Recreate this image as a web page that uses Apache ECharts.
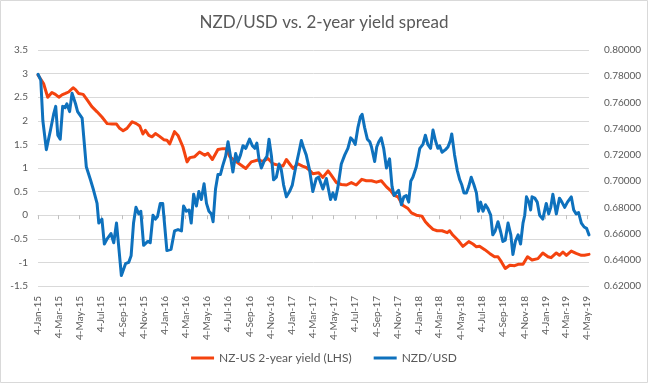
<!DOCTYPE html>
<html><head><meta charset="utf-8">
<script src="https://cdn.jsdelivr.net/npm/echarts@6/dist/echarts.min.js"></script>
<style>html,body{margin:0;padding:0;background:#fff}#c{width:648px;height:383px}</style>
</head><body><div id="c"></div>
<script>
const chartTitle = 'NZD/USD vs. 2-year yield spread';
const seriesNames = ['NZ-US 2-year yield (LHS)', 'NZD/USD'];
const tickLabels = ['4-Jan-15','4-Mar-15','4-May-15','4-Jul-15','4-Sep-15','4-Nov-15',
  '4-Jan-16','4-Mar-16','4-May-16','4-Jul-16','4-Sep-16','4-Nov-16',
  '4-Jan-17','4-Mar-17','4-May-17','4-Jul-17','4-Sep-17','4-Nov-17',
  '4-Jan-18','4-Mar-18','4-May-18','4-Jul-18','4-Sep-18','4-Nov-18',
  '4-Jan-19','4-Mar-19','4-May-19'];
const dateStart = '2015-01-04';
const dateEnd = '2019-05-09';
const leftAxis = {min: -1.5, max: 3.5, step: 0.5};
const rightAxis = {min: 0.62, max: 0.80, step: 0.02};

const yieldDates = ['2015-01-04','2015-01-20','2015-02-01','2015-02-13','2015-02-23','2015-03-05','2015-03-14','2015-03-24','2015-04-02','2015-04-15','2015-04-22','2015-05-01','2015-05-14','2015-05-25','2015-06-08','2015-06-23','2015-07-07','2015-07-22','2015-08-05','2015-08-18','2015-08-27','2015-09-06','2015-09-17','2015-10-02','2015-10-14','2015-10-24','2015-11-02','2015-11-09','2015-11-19','2015-11-28','2015-12-08','2015-12-20',
'2016-01-01','2016-01-10','2016-01-18','2016-02-01','2016-02-11','2016-02-25','2016-03-08','2016-03-16','2016-03-30','2016-04-13','2016-04-28','2016-05-07','2016-05-20','2016-06-05','2016-06-19','2016-06-29','2016-07-09','2016-07-28','2016-08-11','2016-08-24','2016-09-09','2016-09-28','2016-10-13','2016-10-27','2016-11-10','2016-11-25','2016-12-09','2016-12-19','2016-12-28',
'2017-01-07','2017-01-21','2017-02-03','2017-02-14','2017-02-24','2017-03-05','2017-03-10','2017-03-22','2017-04-03','2017-04-18','2017-04-27','2017-05-12','2017-05-26','2017-06-10','2017-06-24','2017-07-08','2017-07-24','2017-08-06','2017-08-21','2017-09-04','2017-09-18','2017-10-03','2017-10-15','2017-10-25','2017-11-05','2017-11-19','2017-12-04','2017-12-14','2017-12-28',
'2018-01-13','2018-01-23','2018-02-01','2018-02-14','2018-02-26','2018-03-12','2018-03-27','2018-04-03','2018-04-12','2018-04-27','2018-05-11','2018-05-28','2018-06-09','2018-06-19','2018-06-28','2018-07-13','2018-07-27','2018-08-10','2018-08-20','2018-08-30','2018-09-10','2018-09-23','2018-10-07','2018-10-17','2018-10-31','2018-11-13','2018-11-26','2018-12-13','2018-12-27',
'2019-01-11','2019-01-20','2019-02-04','2019-02-13','2019-02-23','2019-03-05','2019-03-19','2019-04-02','2019-04-17','2019-04-26','2019-05-09'];
const yieldValues = [2.97,2.79,2.5,2.6,2.56,2.5,2.55,2.58,2.61,2.7,2.66,2.58,2.56,2.45,2.3,2.19,2.08,1.94,1.93,1.93,1.84,1.79,1.84,1.98,1.94,1.89,1.72,1.8,1.69,1.66,1.73,1.67,
1.6,1.59,1.51,1.77,1.69,1.45,1.13,1.22,1.24,1.34,1.27,1.31,1.18,1.39,1.41,1.41,1.24,1.13,1.06,0.99,1.13,1.17,1.14,1.2,1.09,1.06,1.04,1.18,1.09,
0.99,1.09,1.04,1.01,0.95,0.88,0.85,0.9,0.8,0.94,0.85,0.69,0.65,0.64,0.69,0.64,0.76,0.73,0.73,0.7,0.73,0.6,0.52,0.42,0.39,0.21,0.14,0.05,0.0,
-0.02,-0.14,-0.21,-0.3,-0.33,-0.33,-0.37,-0.33,-0.42,-0.53,-0.66,-0.56,-0.61,-0.67,-0.66,-0.73,-0.81,-0.88,-0.88,-0.99,-1.13,-1.06,-1.07,-1.04,-1.04,-0.88,-0.95,-0.92,-0.8,
-0.88,-0.9,-0.8,-0.85,-0.78,-0.85,-0.76,-0.81,-0.85,-0.85,-0.83];

const fxDates = ['2015-01-04','2015-01-12','2015-01-18','2015-01-28','2015-02-09','2015-02-18','2015-02-24','2015-03-02','2015-03-09','2015-03-16','2015-03-23','2015-03-28','2015-04-05','2015-04-12','2015-04-22','2015-04-28','2015-05-11','2015-05-23','2015-06-04','2015-06-13','2015-06-23','2015-06-28','2015-07-07','2015-07-14','2015-07-22','2015-08-02','2015-08-10','2015-08-18','2015-08-24','2015-09-01','2015-09-13','2015-09-22','2015-09-29','2015-10-06','2015-10-13','2015-10-21','2015-10-27','2015-11-04','2015-11-16','2015-11-23','2015-12-01','2015-12-08','2015-12-14','2015-12-22','2015-12-29',
'2016-01-04','2016-01-10','2016-01-22','2016-02-01','2016-02-11','2016-02-21','2016-02-27','2016-03-06','2016-03-14','2016-03-20','2016-03-27','2016-04-04','2016-04-11','2016-04-18','2016-04-26','2016-05-03','2016-05-10','2016-05-17','2016-05-22','2016-05-29','2016-06-05','2016-06-12','2016-06-19','2016-06-27','2016-07-04','2016-07-11','2016-07-18','2016-07-26','2016-08-02','2016-08-09','2016-08-16','2016-08-24','2016-09-04','2016-09-12','2016-09-19','2016-09-25','2016-10-01','2016-10-08','2016-10-17','2016-10-24','2016-10-30','2016-11-06','2016-11-12','2016-11-20','2016-11-28','2016-12-04','2016-12-11','2016-12-19','2016-12-28',
'2017-01-05','2017-01-15','2017-01-24','2017-01-31','2017-02-07','2017-02-14','2017-02-19','2017-02-24','2017-03-05','2017-03-15','2017-03-22','2017-04-03','2017-04-13','2017-04-25','2017-05-02','2017-05-09','2017-05-16','2017-05-26','2017-06-05','2017-06-14','2017-06-22','2017-06-29','2017-07-05','2017-07-13','2017-07-20','2017-07-25','2017-08-01','2017-08-09','2017-08-16','2017-08-21','2017-08-30','2017-09-05','2017-09-11','2017-09-18','2017-09-25','2017-10-03','2017-10-12','2017-10-19','2017-10-25','2017-10-31','2017-11-07','2017-11-15','2017-11-22','2017-11-29','2017-12-06','2017-12-12','2017-12-18','2017-12-28',
'2018-01-07','2018-01-16','2018-01-23','2018-01-30','2018-02-07','2018-02-14','2018-02-21','2018-02-28','2018-03-05','2018-03-12','2018-03-22','2018-03-29','2018-04-05','2018-04-09','2018-04-17','2018-04-25','2018-05-02','2018-05-08','2018-05-14','2018-05-21','2018-05-28','2018-06-04','2018-06-12','2018-06-19','2018-06-25','2018-07-01','2018-07-08','2018-07-15','2018-07-22','2018-07-30','2018-08-05','2018-08-12','2018-08-20','2018-08-28','2018-09-03','2018-09-10','2018-09-18','2018-09-26','2018-10-02','2018-10-09','2018-10-17','2018-10-24','2018-10-31','2018-11-05','2018-11-10','2018-11-17','2018-11-22','2018-11-26','2018-12-04','2018-12-11','2018-12-18','2018-12-27',
'2019-01-06','2019-01-13','2019-01-19','2019-01-25','2019-02-04','2019-02-13','2019-02-20','2019-02-28','2019-03-08','2019-03-19','2019-03-26','2019-04-02','2019-04-09','2019-04-17','2019-04-25','2019-05-02','2019-05-09'];
const fxValues = [0.7815,0.777,0.746,0.724,0.739,0.751,0.757,0.735,0.732,0.757,0.756,0.759,0.753,0.767,0.759,0.753,0.748,0.711,0.701,0.693,0.683,0.668,0.671,0.652,0.656,0.660,0.653,0.668,0.651,0.628,0.637,0.638,0.643,0.668,0.680,0.675,0.677,0.651,0.654,0.653,0.674,0.671,0.673,0.683,0.683,
0.665,0.647,0.648,0.662,0.663,0.662,0.681,0.677,0.678,0.668,0.690,0.681,0.692,0.686,0.698,0.683,0.677,0.675,0.669,0.694,0.705,0.705,0.712,0.719,0.730,0.719,0.707,0.721,0.715,0.720,0.727,0.725,0.732,0.727,0.725,0.729,0.717,0.710,0.716,0.719,0.732,0.719,0.701,0.703,0.713,0.709,0.697,0.688,0.692,
0.697,0.711,0.722,0.731,0.725,0.720,0.719,0.708,0.692,0.702,0.703,0.694,0.702,0.686,0.691,0.686,0.695,0.713,0.720,0.725,0.733,0.731,0.728,0.741,0.749,0.751,0.741,0.732,0.730,0.726,0.715,0.726,0.730,0.733,0.725,0.710,0.717,0.696,0.689,0.691,0.693,0.682,0.688,0.689,0.684,0.700,0.703,0.711,
0.725,0.728,0.735,0.728,0.725,0.739,0.731,0.725,0.727,0.722,0.724,0.726,0.731,0.736,0.720,0.708,0.701,0.697,0.691,0.691,0.696,0.703,0.697,0.691,0.677,0.684,0.677,0.682,0.679,0.674,0.659,0.662,0.669,0.661,0.654,0.655,0.668,0.659,0.644,0.654,0.659,0.652,0.668,0.674,0.688,0.684,0.678,0.688,0.687,0.684,0.674,0.671,
0.683,0.675,0.680,0.690,0.675,0.687,0.684,0.680,0.684,0.688,0.678,0.675,0.676,0.668,0.665,0.664,0.659];

const monthNames = ['Jan','Feb','Mar','Apr','May','Jun','Jul','Aug','Sep','Oct','Nov','Dec'];
function isoTime(s) { const p = s.split('-').map(Number); return new Date(p[0], p[1] - 1, p[2]).getTime(); }
function labelTime(s) { const p = s.split('-'); return new Date(2000 + Number(p[2]), monthNames.indexOf(p[1]), Number(p[0])).getTime(); }
const tickTimes = tickLabels.map(labelTime);
const labelByTime = {}; tickTimes.forEach((t, i) => { labelByTime[t] = tickLabels[i]; });

const FONT = 'Lato, "Open Sans", sans-serif';
const TXT = '#595959';
const chart = echarts.init(document.getElementById('c'), null, {renderer: 'canvas'});
const xBase = {type: 'value', min: isoTime(dateStart), max: isoTime(dateEnd), splitLine: {show: false}};
chart.setOption({
  animation: false,
  backgroundColor: '#fff',
  textStyle: {fontFamily: FONT},
  title: {text: chartTitle, left: 'center', top: 9, textStyle: {fontFamily: FONT, fontSize: 17, fontWeight: 'normal', color: TXT}},
  graphic: [{type: 'rect', shape: {x: 0.5, y: 0.5, width: 647, height: 382}, style: {fill: 'none', stroke: '#D9D9D9', lineWidth: 1}, silent: true}],
  legend: {bottom: 14, left: 'center', itemGap: 22, itemWidth: 23, itemHeight: 3, icon: 'rect',
    textStyle: {fontFamily: FONT, fontSize: 12, color: TXT}, data: seriesNames},
  grid: {left: 38, right: 59, top: 50, bottom: 97, containLabel: false},
  xAxis: [
    Object.assign({}, xBase, {position: 'bottom', axisLine: {show: false, onZero: false}, axisTick: {show: false},
      axisLabel: {customValues: tickTimes, rotate: 90, margin: 10, fontSize: 10, color: TXT, fontFamily: FONT,
        formatter: v => labelByTime[v] || ''}}),
    Object.assign({}, xBase, {position: 'bottom', axisLine: {show: true, onZero: true, onZeroAxisIndex: 0, lineStyle: {color: '#D9D9D9', width: 1}},
      axisTick: {show: true, customValues: tickTimes, length: 4, lineStyle: {color: '#BFBFBF'}}, axisLabel: {show: false}})
  ],
  yAxis: [
    {type: 'value', position: 'left', min: leftAxis.min, max: leftAxis.max, interval: leftAxis.step,
      axisLine: {show: false}, axisTick: {show: false}, splitLine: {lineStyle: {color: '#D9D9D9', width: 1}},
      axisLabel: {fontSize: 10, color: TXT, margin: 10, fontFamily: FONT, formatter: v => String(Math.round(v * 10) / 10)}},
    {type: 'value', position: 'right', min: rightAxis.min, max: rightAxis.max, interval: rightAxis.step,
      axisLine: {show: false}, axisTick: {show: false}, splitLine: {show: false},
      axisLabel: {fontSize: 10, color: TXT, margin: 15, fontFamily: FONT, formatter: v => v.toFixed(5)}}
  ],
  series: [
    {name: seriesNames[0], type: 'line', xAxisIndex: 0, yAxisIndex: 0, showSymbol: false, symbol: 'none',
      color: '#F4430F', lineStyle: {width: 3, color: '#F4430F', join: 'round', cap: 'round'},
      data: yieldDates.map((d, i) => [isoTime(d), yieldValues[i]])},
    {name: seriesNames[1], type: 'line', xAxisIndex: 0, yAxisIndex: 1, showSymbol: false, symbol: 'none',
      color: '#0E71BD', lineStyle: {width: 3, color: '#0E71BD', join: 'round', cap: 'round'},
      data: fxDates.map((d, i) => [isoTime(d), fxValues[i]])}
  ]
});
</script></body></html>
